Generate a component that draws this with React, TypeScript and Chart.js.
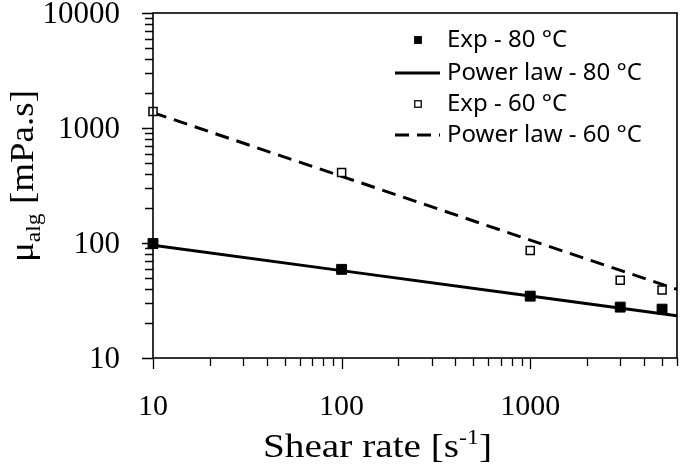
import React, { useEffect, useRef } from 'react';
import { Chart, registerables } from 'chart.js';

Chart.register(...registerables);

// ---- data ----
const X_EXP = [10, 100, 1000, 3000, 5000];
const EXP_80 = [99, 59, 34.5, 27.7, 26.6];
const EXP_60 = [1390, 410, 86, 47.5, 39];
const X_FIT = [10, 100, 1000, 6000];
const FIT_80 = [95.5, 57.5, 34.6, 23.3];
const FIT_60 = [1360, 380, 106, 39.5];

const X_TICKS = [10, 20, 30, 40, 50, 60, 70, 80, 90, 100, 200, 300, 400, 500, 600, 700, 800, 900, 1000, 2000, 3000, 4000, 5000, 6000];
const X_LABELS = [10, 100, 1000];
const Y_TICKS = [10, 20, 30, 40, 50, 60, 70, 80, 90, 100, 200, 300, 400, 500, 600, 700, 800, 900, 1000, 2000, 3000, 4000, 5000, 6000, 7000, 8000, 9000, 10000];
const Y_LABELS = [10, 100, 1000, 10000];

const SERIES_LABELS = ['Exp - 80 °C', 'Power law - 80 °C', 'Exp - 60 °C', 'Power law - 60 °C'];
const X_TITLE_MAIN = 'Shear rate [s';
const X_TITLE_SUP = '-1';
const X_TITLE_END = ']';
const Y_TITLE_MAIN = 'μ';
const Y_TITLE_SUB = 'alg';
const Y_TITLE_END = ' [mPa.s]';

const SERIF = '"Liberation Serif", "DejaVu Serif", serif';
const SANS = '"Noto Sans", "Open Sans", sans-serif';

const pts = (xs: number[], ys: number[]) => xs.map((x, i) => ({ x, y: ys[i] }));

function drawRuns(ctx: CanvasRenderingContext2D, runs: { t: string; size: number; dy: number }[], targetW: number) {
  let total = 0;
  const widths = runs.map((r) => {
    ctx.font = `${r.size}px ${SERIF}`;
    const w = ctx.measureText(r.t).width;
    total += w;
    return w;
  });
  const sx = targetW / total;
  ctx.scale(sx, 1);
  let x = -total / 2;
  runs.forEach((r, i) => {
    ctx.font = `${r.size}px ${SERIF}`;
    ctx.fillText(r.t, x, r.dy);
    x += widths[i];
  });
}

const decorPlugin = {
  id: 'decor',
  afterDraw(chart: any) {
    const { ctx, chartArea: ca } = chart;
    const xs = chart.scales.x;
    const ys = chart.scales.y;
    ctx.save();
    ctx.strokeStyle = '#000';
    ctx.fillStyle = '#000';
    // frame
    ctx.lineWidth = 1.6;
    ctx.strokeRect(ca.left, ca.top, ca.right - ca.left, ca.bottom - ca.top);
    // ticks
    ctx.lineWidth = 1.3;
    ctx.beginPath();
    X_TICKS.forEach((v) => {
      const px = Math.round(xs.getPixelForValue(v)) + 0.5;
      const major = X_LABELS.includes(v);
      ctx.moveTo(px, ca.bottom);
      ctx.lineTo(px, ca.bottom + (major ? 11 : 8));
    });
    Y_TICKS.forEach((v) => {
      const py = Math.round(ys.getPixelForValue(v)) + 0.5;
      const major = Y_LABELS.includes(v);
      ctx.moveTo(ca.left, py);
      ctx.lineTo(ca.left - (major ? 11 : 8), py);
    });
    ctx.stroke();

    // tick labels
    ctx.fillStyle = '#000';
    ctx.textBaseline = 'alphabetic';
    ctx.font = `31px ${SERIF}`;
    ctx.textAlign = 'right';
    Y_LABELS.forEach((v) => {
      const py = ys.getPixelForValue(v);
      ctx.fillText(String(v), 120, py + 10);
    });
    ctx.font = `30px ${SERIF}`;
    ctx.textAlign = 'center';
    X_LABELS.forEach((v) => {
      const px = xs.getPixelForValue(v);
      ctx.fillText(String(v), px, 415);
    });
    ctx.textAlign = 'left';

    // x title
    ctx.save();
    ctx.translate(377.5, 457);
    drawRuns(ctx, [
      { t: X_TITLE_MAIN, size: 33, dy: 0 },
      { t: X_TITLE_SUP, size: 20, dy: -13 },
      { t: X_TITLE_END, size: 33, dy: 0 },
    ], 229);
    ctx.restore();

    // y title
    ctx.save();
    ctx.translate(33, 176);
    ctx.rotate(-Math.PI / 2);
    drawRuns(ctx, [
      { t: Y_TITLE_MAIN, size: 33, dy: 0 },
      { t: Y_TITLE_SUB, size: 21, dy: 7 },
      { t: Y_TITLE_END, size: 33, dy: 0 },
    ], 172);
    ctx.restore();

    // legend
    const rowsY = [40, 73, 104, 135];
    const symX0 = 395;
    const symX1 = 440;
    const symC = 418;
    const textX = 447;
    chart.data.datasets.forEach((ds: any, i: number) => {
      const y = rowsY[i];
      if (ds.showLine) {
        ctx.save();
        ctx.lineWidth = ds.borderWidth;
        ctx.strokeStyle = ds.borderColor;
        ctx.setLineDash(ds.borderDash || []);
        ctx.beginPath();
        ctx.moveTo(symX0, y);
        ctx.lineTo(symX1, y);
        ctx.stroke();
        ctx.restore();
      } else {
        const s = 6.5;
        ctx.save();
        ctx.fillStyle = ds.backgroundColor;
        ctx.strokeStyle = ds.borderColor;
        ctx.lineWidth = 1.3;
        ctx.fillRect(symC - s / 2, y - s / 2, s, s);
        ctx.strokeRect(symC - s / 2, y - s / 2, s, s);
        ctx.restore();
      }
      ctx.font = `24px ${SANS}`;
      ctx.textBaseline = 'middle';
      ctx.textAlign = 'left';
      ctx.fillStyle = '#000';
      ctx.fillText(SERIES_LABELS[i], textX, y);
    });
    ctx.restore();
  },
};

export default function App() {
  const ref = useRef<HTMLCanvasElement | null>(null);
  useEffect(() => {
    if (!ref.current) return;
    const chart = new Chart(ref.current, {
      type: 'scatter',
      data: {
        datasets: [
          {
            label: SERIES_LABELS[0],
            data: pts(X_EXP, EXP_80),
            pointStyle: 'rect',
            pointRadius: 7,
            backgroundColor: '#000',
            borderColor: '#000',
            borderWidth: 1,
            showLine: false,
            clip: false,
            order: 0,
          },
          {
            label: SERIES_LABELS[1],
            data: pts(X_FIT, FIT_80),
            showLine: true,
            pointRadius: 0,
            borderColor: '#000',
            backgroundColor: '#000',
            borderWidth: 3,
            order: 1,
          },
          {
            label: SERIES_LABELS[2],
            data: pts(X_EXP, EXP_60),
            pointStyle: 'rect',
            pointRadius: 5.7,
            backgroundColor: '#fff',
            borderColor: '#000',
            borderWidth: 1.5,
            showLine: false,
            clip: false,
            order: 0,
          },
          {
            label: SERIES_LABELS[3],
            data: pts(X_FIT, FIT_60),
            showLine: true,
            pointRadius: 0,
            borderColor: '#000',
            backgroundColor: '#000',
            borderWidth: 3,
            borderDash: [14, 8],
            order: 1,
          },
        ],
      },
      options: {
        animation: false,
        responsive: true,
        maintainAspectRatio: false,
        layout: { padding: { left: 0, right: 1, top: 13, bottom: 0 } },
        plugins: {
          legend: { display: false },
          tooltip: { enabled: false },
        },
        scales: {
          x: {
            type: 'logarithmic',
            min: 10,
            max: 6000,
            grid: { display: false, drawTicks: false },
            border: { display: false },
            ticks: { display: false },
            afterFit: (s: any) => {
              s.height = 111;
              s.paddingLeft = 0;
              s.paddingRight = 0;
            },
          },
          y: {
            type: 'logarithmic',
            min: 10,
            max: 10000,
            grid: { display: false, drawTicks: false },
            border: { display: false },
            ticks: { display: false },
            afterFit: (s: any) => {
              s.width = 153;
              s.paddingTop = 0;
              s.paddingBottom = 0;
            },
          },
        },
      },
      plugins: [decorPlugin],
    } as any);
    return () => chart.destroy();
  }, []);
  return (
    <div style={{ position: 'fixed', left: 0, top: 0, width: 685, height: 469, background: '#fff' }}>
      <canvas ref={ref} />
    </div>
  );
}
